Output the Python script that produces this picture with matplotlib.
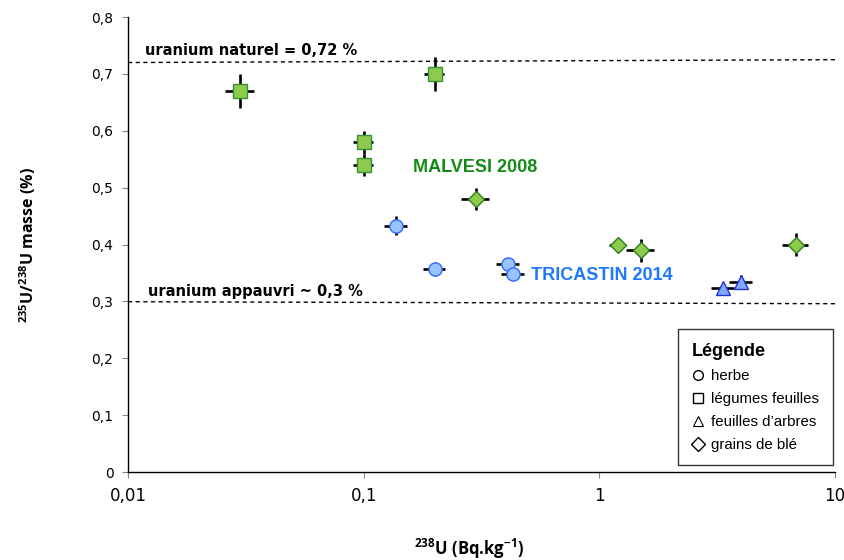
import matplotlib
matplotlib.use("Agg")
import matplotlib.pyplot as plt
from matplotlib.lines import Line2D

plt.rcParams["mathtext.fontset"] = "custom"
plt.rcParams["mathtext.rm"] = "Open Sans:bold"
plt.rcParams["mathtext.it"] = "Open Sans:bold"
plt.rcParams["mathtext.bf"] = "Open Sans:bold"
plt.rcParams["mathtext.default"] = "rm"

# ---- data ----
sq_x = [0.03, 0.2, 0.1, 0.1]
sq_y = [0.67, 0.70, 0.58, 0.54]
sq_xerr = [0.0042, 0.02, 0.01, 0.01]
sq_yerr = [0.03, 0.03, 0.02, 0.02]

di_x = [0.30, 1.2, 1.5, 6.8]
di_y = [0.48, 0.40, 0.39, 0.40]
di_xerr = [0.04, 0.10, 0.20, 0.85]
di_yerr = [0.02, 0.005, 0.02, 0.02]

ci_x = [0.137, 0.20, 0.41, 0.43]
ci_y = [0.433, 0.357, 0.366, 0.349]
ci_xerr = [0.015, 0.022, 0.045, 0.047]
ci_yerr = [0.017, 0.012, 0.005, 0.01]

tr_x = [3.35, 4.0]
tr_y = [0.323, 0.335]
tr_xerr = [0.37, 0.45]
tr_yerr = [0.005, 0.012]

nat_line_x = [0.01, 10]
nat_line_y = [0.72, 0.725]
dep_line_x = [0.01, 10]
dep_line_y = [0.2995, 0.296]

x_ticks = [0.01, 0.1, 1, 10]
x_ticklabels = ["0,01", "0,1", "1", "10"]
y_ticks = [0, 0.1, 0.2, 0.3, 0.4, 0.5, 0.6, 0.7, 0.8]
y_ticklabels = ["0", "0,1", "0,2", "0,3", "0,4", "0,5", "0,6", "0,7", "0,8"]

legend_labels = ["herbe", "légumes feuilles", "feuilles d\u2019arbres", "grains de blé"]

# ---- figure ----
fig = plt.figure(figsize=(8.44, 5.6), dpi=100)
ax = fig.add_axes([0.1517, 0.157, 0.8376, 0.8126])

ax.set_xscale("log")
ax.set_xlim(0.01, 10)
ax.set_ylim(0, 0.8)

# reference lines
ax.plot(nat_line_x, nat_line_y, ls=(0, (3, 2.5)), color="black", lw=1.0, zorder=1)
ax.plot(dep_line_x, dep_line_y, ls=(0, (3, 2.5)), color="black", lw=1.0, zorder=1)

green_fc = "#8CCB4C"
green_ec = "#3A8F3A"
blue_fc = "#99C4FF"
blue_ec = "#3366FF"
tri_fc = "#80AAFF"
tri_ec = "#2233DD"

eb_kw = dict(ls="none", ecolor="black", elinewidth=1.9, capsize=0, zorder=2)

ax.errorbar(sq_x, sq_y, xerr=sq_xerr, yerr=sq_yerr, marker="s", ms=10,
            mfc=green_fc, mec=green_ec, mew=1.0, **eb_kw)
ax.errorbar(di_x, di_y, xerr=di_xerr, yerr=di_yerr, marker="D", ms=8.5,
            mfc=green_fc, mec="#2E7D1E", mew=1.0, **eb_kw)
ax.errorbar(ci_x, ci_y, xerr=ci_xerr, yerr=ci_yerr, marker="o", ms=9.5,
            mfc=blue_fc, mec=blue_ec, mew=1.0, **eb_kw)
ax.errorbar(tr_x, tr_y, xerr=tr_xerr, yerr=tr_yerr, marker="^", ms=9.5,
            mfc=tri_fc, mec=tri_ec, mew=1.0, **eb_kw)

# annotations
ax.text(0.0118, 0.728, "uranium naturel = 0,72 %", fontsize=10.5, fontweight="bold",
        color="black", va="bottom", ha="left", family="DejaVu Sans")
ax.text(0.0122, 0.305, "uranium appauvri ~ 0,3 %", fontsize=10.5, fontweight="bold",
        color="black", va="bottom", ha="left", family="DejaVu Sans")
ax.text(0.162, 0.536, "MALVESI 2008", fontsize=13, fontweight="bold",
        color="#138A13", va="center", ha="left", family="Liberation Sans")
ax.text(0.513, 0.345, "TRICASTIN 2014", fontsize=13, fontweight="bold",
        color="#1F78FF", va="center", ha="left", family="Liberation Sans")

# axes styling
for s in ["top", "right"]:
    ax.spines[s].set_visible(False)
ax.spines["left"].set_linewidth(1.0)
ax.spines["bottom"].set_linewidth(1.0)

ax.set_xticks(x_ticks)
ax.set_xticklabels(x_ticklabels, family="Liberation Sans Narrow", fontsize=12)
ax.xaxis.set_minor_locator(matplotlib.ticker.NullLocator())
ax.set_yticks(y_ticks)
ax.set_yticklabels(y_ticklabels, family="DejaVu Sans", fontsize=10)
ax.tick_params(axis="both", which="major", direction="out", length=4.5, width=0.8,
               color="#888888", pad=6)

ax.set_xlabel(r"$^{238}$U (Bq.kg$^{-1}$)", family="Open Sans",
              fontsize=12, fontweight="bold")
ax.xaxis.set_label_coords(0.482, -0.17)
ax.xaxis.label.set_va("center")
ax.set_ylabel(r"$^{235}$U/$^{238}$U masse (%)", family="Open Sans",
              fontsize=11.5, fontweight="bold")
ax.yaxis.set_label_coords(-0.142, 0.5)
ax.yaxis.label.set_va("center")

# legend
handles = [
    Line2D([], [], ls="none", marker="o", ms=7, mfc="none", mec="black", mew=1.0),
    Line2D([], [], ls="none", marker="s", ms=7, mfc="none", mec="black", mew=1.0),
    Line2D([], [], ls="none", marker="^", ms=7, mfc="none", mec="black", mew=0.8),
    Line2D([], [], ls="none", marker="D", ms=7, mfc="none", mec="black", mew=1.0),
]
leg = ax.legend(handles, legend_labels, title="Légende", loc="lower right",
                bbox_to_anchor=(0.997, 0.015), borderaxespad=0.0, frameon=True,
                fancybox=False, edgecolor="black",
                prop={"family": "Liberation Sans", "size": 10.8},
                title_fontproperties={"family": "Liberation Sans", "size": 13, "weight": "bold"},
                handlelength=0.8, handletextpad=0.5, labelspacing=0.6,
                borderpad=0.9, markerfirst=True)
leg.get_frame().set_linewidth(1.0)
leg._legend_box.align = "left"

fig.savefig("out.png", dpi=100)
